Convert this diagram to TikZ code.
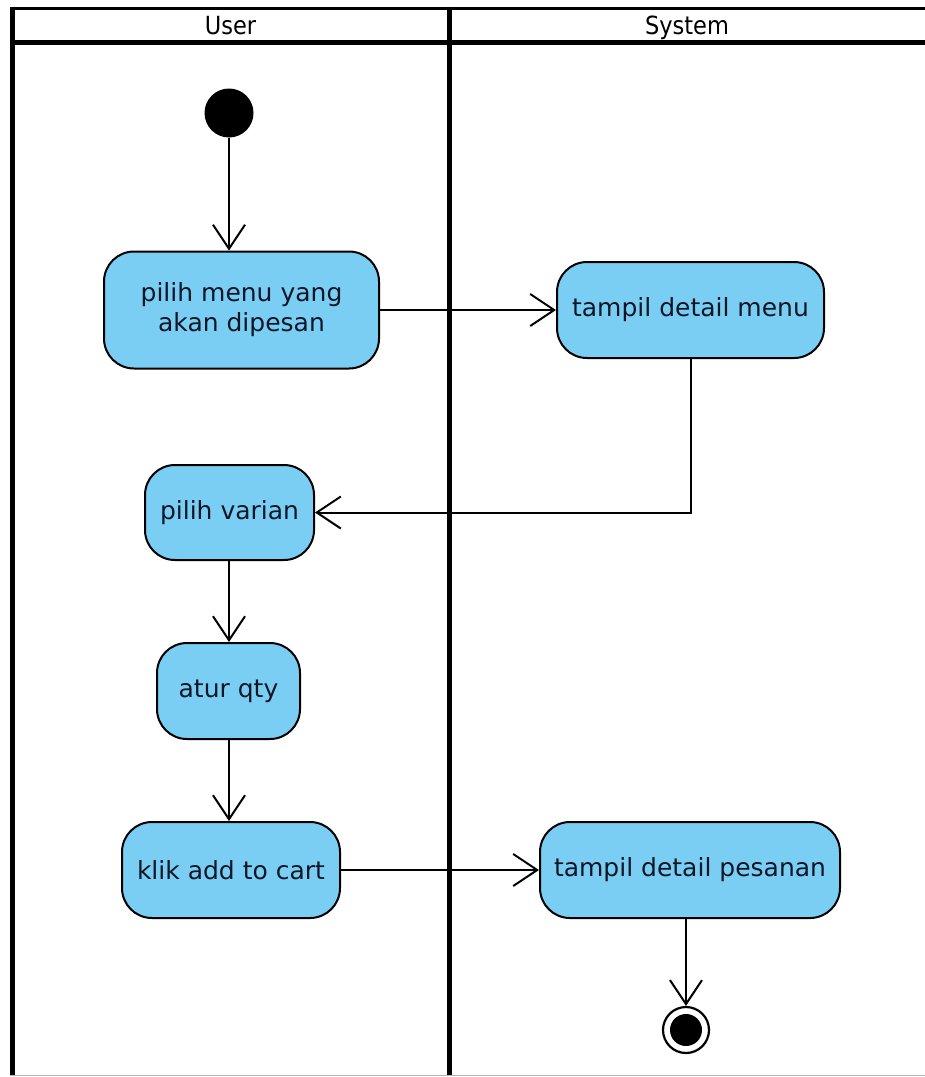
\documentclass[tikz,border=0pt]{standalone}
\usepackage{fontspec}
\setmainfont{DejaVu Sans}
\newfontfamily\headfont{DejaVu Sans Condensed}
\usetikzlibrary{arrows.meta}
\definecolor{actfill}{RGB}{122,206,243}
\definecolor{acttext}{RGB}{15,22,38}
\tikzset{
  x=1pt, y=-1pt,
  lane/.style={line width=5pt, draw=black},
  action/.style={draw=black, line width=2pt, fill=actfill, rounded corners=30pt,
    text=acttext, font=\fontsize{25}{30}\selectfont, align=center, inner sep=0pt},
  flow/.style={draw=black, line width=2pt,
    -{Straight Barb[length=24pt,width=32pt,line width=2pt]}},
  lanehead/.style={font=\headfont\fontsize{25}{27}\selectfont, text=black, anchor=base}
}
\begin{document}
\begin{tikzpicture}
\useasboundingbox (0,0) rectangle (925,1077);
\fill[white] (0,0) rectangle (925,1077);

% swimlane frame (open on the right)
\draw[line width=3.5pt] (10,8.5) -- (927,8.5);
\draw[lane] (10,42.5) -- (927,42.5);
\draw[lane] (12,6.5) -- (12,1075);
\draw[lane] (449,6.5) -- (449,1075);
\draw[gray!60, line width=1.5pt] (10,1075.5) -- (925,1075.5);
\node[lanehead] (hUser) at (230.5,34) {User};
\node[lanehead] (hSystem) at (687,34) {System};

% start and end nodes
\node[circle, fill=black, minimum size=49pt, inner sep=0pt] (start) at (229,113) {};
\node[circle, draw=black, line width=2.2pt, fill=white, minimum size=46pt, inner sep=0pt] (final) at (686,1030) {};
\node[circle, fill=black, minimum size=32pt, inner sep=0pt] (finalDot) at (686,1030) {};

% actions
\node[action, minimum width=275pt, minimum height=117pt] (pilihMenu) at (241.5,310) {pilih menu yang\\akan dipesan};
\node[action, minimum width=267pt, minimum height=96pt] (detailMenu) at (690.5,310) {tampil detail menu};
\node[action, minimum width=169pt, minimum height=95pt] (varian) at (229.5,512.5) {pilih varian};
\node[action, minimum width=143pt, minimum height=96pt] (qty) at (228.5,691) {atur qty};
\node[action, minimum width=218pt, minimum height=96pt] (cart) at (231,870) {klik add to cart};
\node[action, minimum width=300pt, minimum height=96pt] (pesanan) at (690,870) {tampil detail pesanan};

% control flows
\draw[flow] (start) -- (start |- pilihMenu.north);
\draw[flow] (pilihMenu) -- (detailMenu);
\draw[flow] (detailMenu.south) |- (varian.east);
\draw[flow] (varian.south -| 229,0) -- (qty.north -| 229,0);
\draw[flow] (qty.south -| 229,0) -- (cart.north -| 229,0);
\draw[flow] (cart) -- (pesanan);
\draw[flow] (pesanan.south -| final) -- (final.north);
\end{tikzpicture}
\end{document}
